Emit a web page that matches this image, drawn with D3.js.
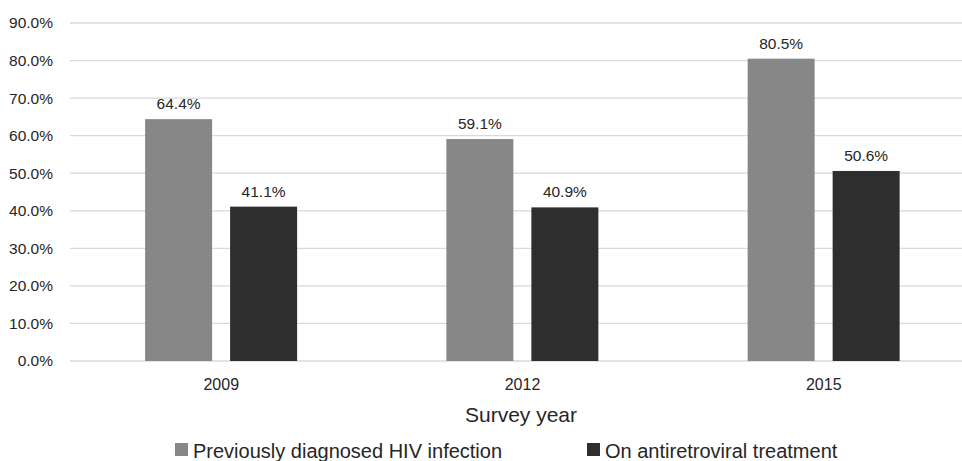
<!DOCTYPE html>
<html><head><meta charset="utf-8">
<script src="https://cdn.jsdelivr.net/npm/d3@7"></script>
<style>body{margin:0;background:#fff}svg{display:block}text{font-family:"Liberation Sans",Arial,sans-serif;fill:#262626}</style>
</head><body>
<svg id="c" width="962" height="461"></svg>
<script>
const categories = ["2009", "2012", "2015"];
const seriesNames = ["Previously diagnosed HIV infection", "On antiretroviral treatment"];
const diagnosed = [64.4, 59.1, 80.5];
const onTreatment = [41.1, 40.9, 50.6];
const yTicks = [0, 10, 20, 30, 40, 50, 60, 70, 80, 90];
const colors = ["#878787", "#2e2e2e"];
const xTitle = "Survey year";

const svg = d3.select("#c");
const x = d3.scaleBand().domain(categories).range([70.6, 974.4]).paddingInner(0).paddingOuter(0);
const y = d3.scaleLinear().domain([0, 90]).range([361, 23]);
const sub = d3.scaleBand().domain([0, 1]).range([74.5, 226.5]).paddingInner(18/85).paddingOuter(0);

// gridlines
svg.append("g").selectAll("line").data(yTicks).join("line")
  .attr("x1", 70).attr("x2", 962)
  .attr("y1", d => y(d)).attr("y2", d => y(d))
  .attr("stroke", "#d9d9d9").attr("stroke-width", 1.3);

// y axis labels
const yAxis = d3.axisLeft(y).tickValues(yTicks).tickFormat(d => d.toFixed(1) + "%").tickSize(0).tickPadding(0);
const ya = svg.append("g").attr("transform", "translate(53,0)").call(yAxis);
ya.select(".domain").remove();
ya.selectAll("text").attr("font-size", 15.5).attr("font-family", "Liberation Sans, Arial, sans-serif").attr("fill", "#262626");

// bars
const series = [diagnosed, onTreatment];
series.forEach((vals, si) => {
  const g = svg.append("g");
  g.selectAll("rect").data(vals).join("rect")
    .attr("x", (d, i) => x(categories[i]) + sub(si))
    .attr("width", sub.bandwidth())
    .attr("y", d => y(d))
    .attr("height", d => y(0) - y(d))
    .attr("fill", colors[si]);
  g.selectAll("text").data(vals).join("text")
    .attr("x", (d, i) => x(categories[i]) + sub(si) + sub.bandwidth() / 2)
    .attr("y", d => y(d) - 10)
    .attr("text-anchor", "middle")
    .attr("font-size", 15.5)
    .text(d => d.toFixed(1) + "%");
});

// x axis labels
const xAxis = d3.axisBottom(x).tickSize(0).tickPadding(0);
const xa = svg.append("g").attr("transform", "translate(0,379)").call(xAxis);
xa.select(".domain").remove();
xa.selectAll("text").attr("font-size", 16).attr("font-family", "Liberation Sans, Arial, sans-serif").attr("fill", "#262626");

// axis title
svg.append("text").attr("x", 521).attr("y", 422).attr("text-anchor", "middle")
  .attr("font-size", 21).text(xTitle);

// legend
const legX = [175, 587];
seriesNames.forEach((n, i) => {
  svg.append("rect").attr("x", legX[i]).attr("y", 443).attr("width", 13).attr("height", 13).attr("fill", colors[i]);
  svg.append("text").attr("x", legX[i] + 18).attr("y", 458).attr("font-size", 20).text(n);
});
</script>
</body></html>
